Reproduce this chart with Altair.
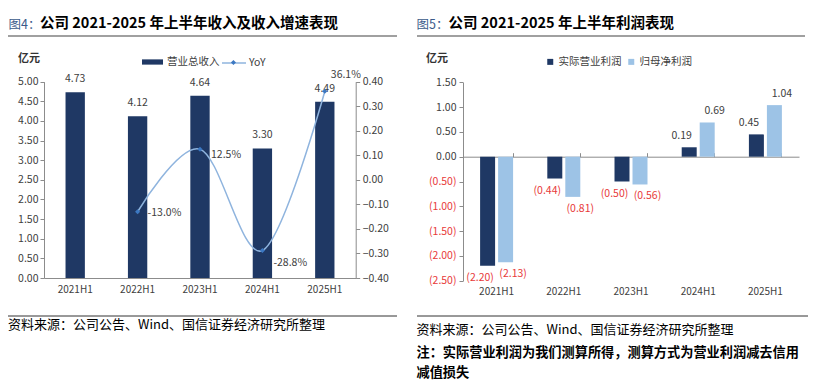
import altair as alt
import pandas as pd

# ---------------- data ----------------
periods = ["2021H1", "2022H1", "2023H1", "2024H1", "2025H1"]
revenue = [4.73, 4.12, 4.64, 3.30, 4.49]
revenue_yoy = [None, -0.130, 0.125, -0.288, 0.361]
op_profit = [-2.20, -0.44, -0.50, 0.19, 0.45]
net_profit = [-2.13, -0.81, -0.56, 0.69, 1.04]

rev_name = "营业总收入"
yoy_name = "YoY"
op_name = "实际营业利润"
np_name = "归母净利润"

left_ticks = [0, 0.5, 1, 1.5, 2, 2.5, 3, 3.5, 4, 4.5, 5]
yoy_ticks = [-0.4, -0.3, -0.2, -0.1, 0, 0.1, 0.2, 0.3, 0.4]
right_ticks = [-2.5, -2, -1.5, -1, -0.5, 0, 0.5, 1, 1.5]

title_l_prefix = "图4："
title_l = "公司 2021-2025 年上半年收入及收入增速表现"
title_r_prefix = "图5："
title_r = "公司 2021-2025 年上半年利润表现"
unit_text = "亿元"
source_text = "资料来源：公司公告、Wind、国信证券经济研究所整理"
note_line1 = "注：实际营业利润为我们测算所得，测算方式为营业利润减去信用"
note_line2 = "减值损失"

# ---------------- styling ----------------
W, H = 800, 374
FONT = "Noto Sans CJK SC"
DARK = "#1f3864"
LIGHT = "#9dc3e6"
LINE = "#8fb4de"
MARKER = "#3c78c2"
RED = "#e83a3a"
AX = "#8c8c8c"
TXT = "#404040"

left_df = pd.DataFrame({
    "period": periods,
    "revenue": revenue,
    "yoy": revenue_yoy,
    "s_rev": rev_name,
    "s_yoy": yoy_name,
})
left_df["rev_label"] = [f"{v:.2f}" for v in revenue]
left_df["yoy_label"] = [None if v is None else f"{v * 100:.1f}%" for v in revenue_yoy]

right_df = pd.DataFrame({
    "period": periods * 2,
    "series": [op_name] * len(periods) + [np_name] * len(periods),
    "value": op_profit + net_profit,
})
right_df["label"] = [f"({-v:.2f})" if v < 0 else f"{v:.2f}" for v in right_df["value"]]

# ---------------- scales (pixel ranges) ----------------
L_BOTTOM, L_TOP = 270.0, 73.7
R_BOTTOM, R_TOP = 272.7, 74.3
R_MIN, R_MAX = -2.5, 1.5
R_ZERO = R_BOTTOM - (0 - R_MIN) / (R_MAX - R_MIN) * (R_BOTTOM - R_TOP)


def lx():
    return alt.Scale(domain=periods, range=[36, 348], paddingInner=0.69, paddingOuter=0.345)


def ly():
    return alt.Scale(domain=[0, 5], range=[L_BOTTOM, L_TOP], nice=False)


def ly2():
    return alt.Scale(domain=[-0.4, 0.4], range=[L_BOTTOM, L_TOP], nice=False, zero=False)


def rx():
    return alt.Scale(domain=periods, range=[455, 791], paddingInner=0.509, paddingOuter=0.2545)


def ry():
    return alt.Scale(domain=[R_MIN, R_MAX], range=[R_BOTTOM, R_TOP], nice=False)


def roff():
    return alt.Scale(domain=[op_name, np_name], paddingInner=0.167, paddingOuter=0)


# ---------------- left panel ----------------
l_bars = alt.Chart(left_df).mark_bar(color=DARK).encode(
    x=alt.X("period:N", scale=lx(), axis=alt.Axis(
        orient="bottom", offset=L_BOTTOM - H, title=None, ticks=False, tickSize=0,
        domainColor=AX, labelColor=TXT, labelFont=FONT, labelFontSize=10,
        labelPadding=6, labelAngle=0, grid=False)),
    y=alt.Y("revenue:Q", scale=ly(), axis=alt.Axis(
        orient="left", offset=-36, title=None, values=left_ticks, format=".2f",
        tickSize=4, tickColor=AX, domainColor=AX, labelColor=TXT, labelFont=FONT,
        labelFontSize=10.5, labelPadding=2, grid=False)),
    color=alt.Color("s_rev:N", scale=alt.Scale(domain=[rev_name], range=[DARK]), legend=alt.Legend(
        orient="none", legendX=134, legendY=43.5, title=None, direction="horizontal",
        symbolType="M-1,-0.25H1V0.25H-1Z", symbolSize=441, symbolStrokeWidth=0,
        labelFont=FONT, labelFontSize=10.5, labelColor=TXT, labelOffset=4, padding=0)),
)

l_bar_text = alt.Chart(left_df).mark_text(dy=-13, font=FONT, fontSize=10.5, color=TXT).encode(
    x=alt.X("period:N", scale=lx(), axis=None),
    y=alt.Y("revenue:Q", scale=ly(), axis=None),
    text="rev_label:N",
)

l_line = alt.Chart(left_df).mark_line(interpolate="cardinal", strokeWidth=1.5).encode(
    x=alt.X("period:N", scale=lx(), axis=None),
    y=alt.Y("yoy:Q", scale=ly2(), axis=alt.Axis(
        orient="right", offset=347.7 - W, title=None, values=yoy_ticks, format=".2f",
        tickSize=4, tickColor=AX, domainColor=AX, labelColor=TXT, labelFont=FONT,
        labelFontSize=10.5, labelPadding=2.5, grid=False)),
    stroke=alt.Stroke("s_yoy:N", scale=alt.Scale(domain=[yoy_name], range=[LINE]), legend=alt.Legend(
        orient="none", legendX=213, legendY=42, title=None, direction="horizontal",
        symbolType="stroke", symbolSize=576, symbolStrokeWidth=1.5,
        labelFont=FONT, labelFontSize=10.5, labelColor=TXT, labelOffset=2, padding=0)),
)

l_pts = alt.Chart(left_df).mark_point(shape="diamond", filled=True, size=26, opacity=1).encode(
    x=alt.X("period:N", scale=lx(), axis=None),
    y=alt.Y("yoy:Q", scale=ly2(), axis=None),
    fill=alt.Fill("s_yoy:N", scale=alt.Scale(domain=[yoy_name], range=[MARKER]), legend=alt.Legend(
        orient="none", legendX=213 + 12 - 2.55, legendY=54 - 2.55, title=None,
        symbolType="diamond", symbolSize=26, symbolStrokeWidth=0,
        labelOpacity=0, labelFontSize=1, padding=0)),
)


def yoy_text(sel, dx, dy):
    return alt.Chart(left_df).transform_filter(
        alt.FieldOneOfPredicate(field="period", oneOf=sel)
    ).mark_text(align="left", dx=dx, dy=dy, font=FONT, fontSize=10.5, color=TXT).encode(
        x=alt.X("period:N", scale=lx(), axis=None),
        y=alt.Y("yoy:Q", scale=ly2(), axis=None),
        text="yoy_label:N",
    )


l_yoy1 = yoy_text(["2022H1"], 10, 1)
l_yoy2 = yoy_text(["2023H1"], 11, 6)
l_yoy3 = yoy_text(["2024H1"], 11, 12)
l_yoy4 = yoy_text(["2025H1"], 6, -16)

# ---------------- right panel ----------------
r_bars = alt.Chart(right_df).mark_bar().encode(
    x=alt.X("period:N", scale=rx(), axis=alt.Axis(
        orient="bottom", offset=R_BOTTOM - H, title=None, ticks=False, tickSize=0,
        domain=False, labelColor=TXT, labelFont=FONT, labelFontSize=10,
        labelPadding=6, labelAngle=0, grid=False)),
    xOffset=alt.XOffset("series:N", scale=roff()),
    y=alt.Y("value:Q", scale=ry(), axis=alt.Axis(
        orient="left", offset=-455, title=None, values=right_ticks,
        labelExpr="datum.value < 0 ? '(' + format(-datum.value, '.2f') + ')' : format(datum.value, '.2f')",
        labelColor=alt.condition("datum.value < 0", alt.value(RED), alt.value(TXT)),
        tickSize=4, tickColor=AX, domainColor=AX, labelFont=FONT,
        labelFontSize=10.5, labelPadding=3, grid=False)),
    color=alt.Color("series:N", scale=alt.Scale(domain=[op_name, np_name], range=[DARK, LIGHT]), legend=alt.Legend(
        orient="none", legendX=537, legendY=48.5, title=None, direction="horizontal",
        symbolType="square", symbolSize=36, symbolStrokeWidth=0, columnPadding=4,
        labelFont=FONT, labelFontSize=10.5, labelColor=TXT, labelOffset=3, padding=0)),
)

r_pos_text = alt.Chart(right_df).transform_filter("datum.value >= 0").mark_text(
    dy=-11, font=FONT, fontSize=10.5, color=TXT
).encode(
    x=alt.X("period:N", scale=rx(), axis=alt.Axis(
        orient="top", offset=-R_ZERO, title=None, labels=False, ticks=True, tickSize=4,
        bandPosition=1, tickColor=AX, domainColor=AX, grid=False)),
    xOffset=alt.XOffset("series:N", scale=roff()),
    y=alt.Y("value:Q", scale=ry(), axis=None),
    text="label:N",
)

r_neg_text = alt.Chart(right_df).transform_filter("datum.value < 0").mark_text(
    dy=12, font=FONT, fontSize=10.5, color=RED
).encode(
    x=alt.X("period:N", scale=rx(), axis=None),
    xOffset=alt.XOffset("series:N", scale=roff()),
    y=alt.Y("value:Q", scale=ry(), axis=None),
    text="label:N",
)


# ---------------- decorations ----------------
def deco_text(txt, x, y, size, weight="normal", color="#000000"):
    return alt.Chart(pd.DataFrame({"t": [txt]})).mark_text(
        align="left", baseline="middle", font=FONT, fontSize=size, fontWeight=weight, color=color
    ).encode(x=alt.value(x), y=alt.value(y), text="t:N")


def deco_rule(x1, x2, y, color, width):
    return alt.Chart(pd.DataFrame({"a": [0]})).mark_rule(color=color, strokeWidth=width).encode(
        x=alt.value(x1), x2=alt.value(x2), y=alt.value(y)
    )


decos = [
    deco_text(title_l_prefix, 0.5, 16.5, 12.5, "normal", "#3a5a8a"),
    deco_text(title_l, 32, 16.3, 14.5, "bold"),
    deco_text(title_r_prefix, 408.5, 16.5, 12.5, "normal", "#3a5a8a"),
    deco_text(title_r, 440.5, 16.3, 14.5, "bold"),
    deco_rule(0, 389, 28, "#808080", 1.5),
    deco_rule(409, 797, 28, "#808080", 1.5),
    deco_text(unit_text, 10, 51, 11, "bold", "#333333"),
    deco_text(unit_text, 418, 51, 11, "bold", "#333333"),
    deco_rule(0, 389, 308, "#333333", 1),
    deco_rule(409, 800, 308, "#333333", 1),
    deco_text(source_text, 0, 316.5, 13),
    deco_text(source_text, 408.5, 321.5, 13),
    deco_text(note_line1, 408.5, 345, 13.2, "bold"),
    deco_text(note_line2, 408.5, 364.5, 13.2, "bold"),
]

layers = [l_bars, l_bar_text, l_line, l_pts, l_yoy1, l_yoy2, l_yoy3, l_yoy4,
          r_bars, r_pos_text, r_neg_text] + decos

chart = alt.layer(*layers).resolve_scale(
    x="independent", y="independent", color="independent",
    stroke="independent", fill="independent", xOffset="independent",
).properties(
    width=W, height=H, padding=0, autosize=alt.AutoSizeParams(type="none"),
).configure_view(stroke=None)

chart.save("out.html", embed_options={"renderer": "svg", "actions": False})
